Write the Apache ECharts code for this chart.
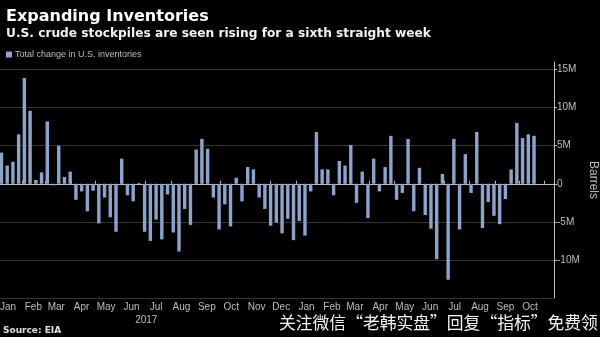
<!DOCTYPE html>
<html><head><meta charset="utf-8">
<script src="https://cdn.jsdelivr.net/npm/echarts@6/dist/echarts.min.js"></script>
<style>html,body{margin:0;padding:0;background:#000}#c{width:600px;height:337px}</style>
</head><body><div id="c"></div>
<script>
// Weekly change in U.S. crude inventories, million barrels (weeks ending Fridays, from 6 Jan 2017)
const firstWeekEnding = [2017, 0, 6];
const inventoryChange = [
  4.1, 2.4, 2.9, 6.5, 13.9, 9.6, 0.5, 1.5, 8.2, -0.2,
  5.0, 0.9, 1.6, -2.1, -1.0, -3.6, -0.9, -5.2, -1.8, -4.4,
  -6.3, 3.3, -1.5, -2.3, 0.1, -6.3, -7.5, -4.7, -7.3, -1.4,
  -6.4, -8.9, -3.3, -5.4, 4.5, 5.9, 4.6, -1.8, -6.0, -2.7,
  -5.6, 0.8, -2.3, 2.2, 1.9, -1.8, -3.3, -5.5, -5.1, -6.5,
  -4.6, -7.4, -4.9, -6.8, -1.0, 6.8, 1.9, 1.9, -1.5, 3.0,
  2.4, 5.1, -2.5, 1.6, -4.5, 3.3, -1.0, 2.2, 6.3, -2.1,
  -1.2, 5.9, -3.6, 2.1, -4.1, -5.9, -9.9, 1.3, -12.6, 5.9,
  -6.0, 3.9, -1.2, 6.8, -5.8, -2.4, -4.2, -5.3, -2.0, 1.9,
  8.0, 6.0, 6.5, 6.3
];
const monthNames = ['Jan','Feb','Mar','Apr','May','Jun','Jul','Aug','Sep','Oct','Nov','Dec'];
const labelMonths = { start: [2017, 0], end: [2018, 9] };
const yearLabels = [2017];
const seriesName = 'Total change in U.S. inventories';

const weekDates = inventoryChange.map((_, i) =>
  new Date(firstWeekEnding[0], firstWeekEnding[1], firstWeekEnding[2] + 7 * i).getTime());
const barData = inventoryChange.map((v, i) => [weekDates[i], v]);

const monthMid = [], monthStart = [];
for (let y = labelMonths.start[0], m = labelMonths.start[1];
     y < labelMonths.end[0] || (y === labelMonths.end[0] && m <= labelMonths.end[1]); ) {
  monthMid.push(new Date(y, m, 14).getTime());
  monthStart.push(new Date(y, m, 1).getTime());
  m++; if (m > 11) { m = 0; y++; }
}
monthStart.push(new Date(labelMonths.end[0], labelMonths.end[1] + 1, 1).getTime());
const yearMid = yearLabels.map(y => new Date(y, 6, 2).getTime());

const xMin = new Date(2017, 0, 4, 5).getTime();
const xMax = new Date(2018, 10, 12, 10).getTime();
const axisGrey = '#bdbdbd';

const chart = echarts.init(document.getElementById('c'));
chart.setOption({
  backgroundColor: '#000',
  animation: false,
  title: {
    text: 'Expanding Inventories',
    subtext: 'U.S. crude stockpiles are seen rising for a sixth straight week',
    left: 1, top: 4, itemGap: 3,
    textStyle: { color: '#fff', fontSize: 16, fontWeight: 'bold', fontFamily: 'DejaVu Sans' },
    subtextStyle: { color: '#f2f2f2', fontSize: 12.2, fontWeight: 'bold', fontFamily: 'DejaVu Sans' }
  },
  legend: {
    data: [seriesName],
    left: 1, top: 45,
    icon: 'rect', itemWidth: 6, itemHeight: 6, itemGap: 4,
    textStyle: { color: axisGrey, fontSize: 9, fontFamily: 'Liberation Sans', padding: [0, 0, 0, -2] }
  },
  grid: { left: 0, right: 46, top: 62, bottom: 39, outerBoundsMode: 'none', containLabel: false },
  xAxis: [{
    type: 'value', min: xMin, max: xMax,
    axisLine: { lineStyle: { color: axisGrey, width: 1 } },
    axisTick: { show: true, inside: true, length: 3, customValues: monthStart, lineStyle: { color: axisGrey } },
    splitLine: { show: false },
    axisLabel: {
      customValues: monthMid, color: axisGrey, fontSize: 10, fontFamily: 'Liberation Sans', margin: 4,
      formatter: v => monthNames[new Date(v).getMonth()]
    }
  }, {
    type: 'value', min: xMin, max: xMax, position: 'bottom', offset: 13,
    axisLine: { show: false }, axisTick: { show: false }, splitLine: { show: false },
    axisLabel: {
      customValues: yearMid, color: axisGrey, fontSize: 10, fontFamily: 'Liberation Sans', margin: 4,
      formatter: v => String(new Date(v).getFullYear())
    }
  }],
  yAxis: {
    type: 'value', position: 'right', min: -15, max: 16, interval: 5,
    name: 'Barrels', nameLocation: 'middle', nameRotate: -90, nameGap: 33, nameMoveOverlap: false,
    nameTextStyle: { color: axisGrey, fontSize: 12, fontFamily: 'Liberation Sans' },
    axisLine: { show: true, lineStyle: { color: axisGrey } },
    axisTick: { show: true, length: 3, lineStyle: { color: axisGrey } },
    axisLabel: {
      color: axisGrey, fontSize: 10, fontFamily: 'Liberation Sans', margin: 3,
      showMinLabel: false, showMaxLabel: false,
      formatter: v => v === 0 ? '0' : v + 'M'
    },
    splitLine: { show: true, showMaxLine: false, lineStyle: { color: '#333333', width: 1 } }
  },
  series: [{
    name: seriesName, type: 'bar', data: barData,
    barWidth: 3.4,
    itemStyle: { color: '#8ca4cc' }
  }],
  graphic: [{
    type: 'text', left: 3, top: 326,
    style: { text: 'Source: EIA', fill: '#e0e0e0', font: 'bold 9px "DejaVu Sans"' }
  }, {
    type: 'text', left: 279, top: 314,
    style: { text: '关注微信“老韩实盘”回复“指标”免费领', fill: '#f4f4f4', font: '16.8px "Noto Sans CJK SC"' }
  }]
});
</script>
</body></html>
